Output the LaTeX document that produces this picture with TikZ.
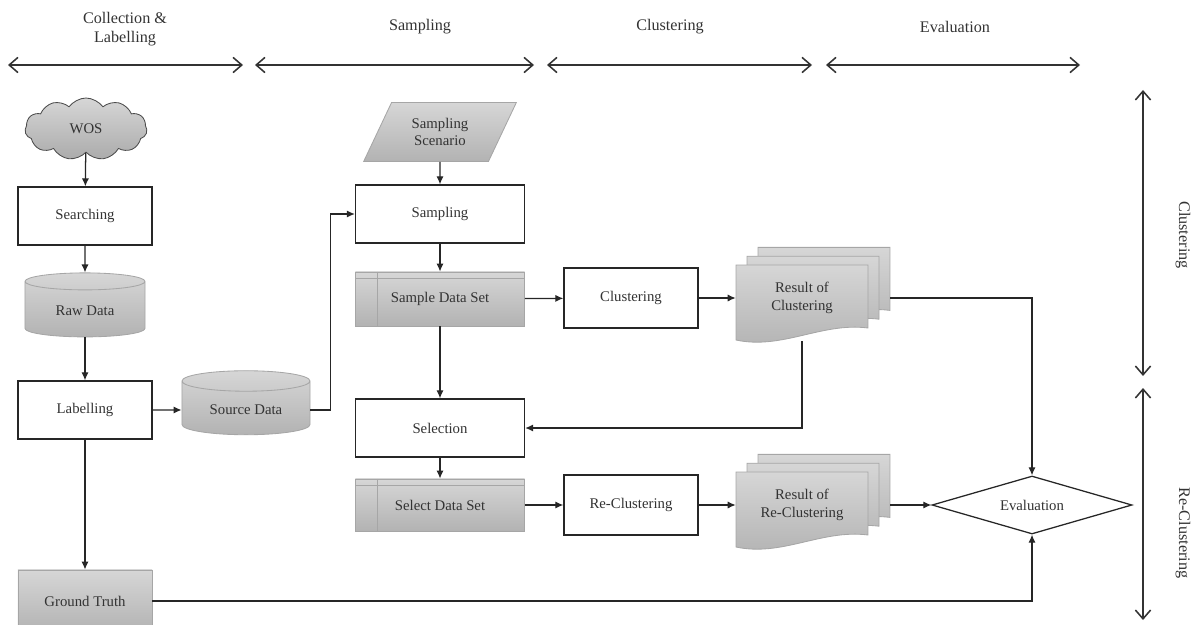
\documentclass[tikz,border=0pt]{standalone}
\usepackage{fontspec}
\setmainfont{Liberation Serif}
\usepackage{tikz}
\usetikzlibrary{shapes.geometric, shapes.symbols, arrows.meta, positioning, calc}

\begin{document}
\begin{tikzpicture}[x=0.025cm, y=-0.025cm,
  font=\fontsize{10.5}{12.5}\selectfont, text=black!80,
  box/.style={draw=black!85, line width=0.9pt, rectangle, fill=white, minimum width=3.35cm, minimum height=1.45cm},
  grey/.style={draw=black!35, line width=0.6pt, top color=black!16, bottom color=black!30},
  store/.style={grey, rectangle, minimum width=4.225cm, minimum height=1.3cm,
    path picture={
      \draw[black!35, line width=0.6pt] ([xshift=0.55cm]path picture bounding box.north west) -- ([xshift=0.55cm]path picture bounding box.south west);
      \draw[black!35, line width=0.6pt] ([yshift=-0.15cm]path picture bounding box.north west) -- ([yshift=-0.15cm]path picture bounding box.north east);}},
  db/.style={grey, cylinder, shape border rotate=90, aspect=0.25},
  sheet/.style={grey},
  flow/.style={draw=black!85, line width=0.9pt, -{Latex[length=2mm, width=1.8mm]}},
  span/.style={draw=black!80, line width=1.1pt, {Straight Barb[length=2.2mm, width=3.8mm]}-{Straight Barb[length=2.2mm, width=3.8mm]}},
  head/.style={font=\fontsize{11.5}{14}\selectfont, align=center}]
\useasboundingbox (0,0) rectangle (1195,624);

% Phase headers
\node[head] (hcol) at (125,29) {Collection \&\\Labelling};
\node[head] (hsam) at (420,27) {Sampling};
\node[head] (hclu) at (670,27) {Clustering};
\node[head] (heva) at (955,27) {Evaluation};
\foreach \a/\b in {8/243, 255/534, 547/812, 826/1080} {
  \draw[span] (\a,65) -- (\b,65);
}
\node[head, rotate=-90] (sclu) at (1183,235) {Clustering};
\node[head, rotate=-90] (srec) at (1183,533) {Re-Clustering};
\draw[span] (1143,90) -- (1143,376);
\draw[span] (1143,388) -- (1143,620);

% Collection & Labelling
\node[grey, draw=black!70, bottom color=black!33, cloud, cloud puffs=11, cloud puff arc=110, aspect=2, minimum width=3.05cm, minimum height=1.55cm] (wos) at (86,129) {WOS};
\node[box] (search) at (85,216) {Searching};
\node[db, minimum width=3cm, minimum height=1.6cm] (raw) at (85,311) {Raw Data};
\node[box] (label) at (85,410) {Labelling};
\node[db, minimum width=3.2cm, minimum height=1.6cm] (source) at (246,410) {Source Data};
\node[grey, rectangle, minimum width=3.35cm, minimum height=1.55cm] (truth) at (85,601) {Ground Truth};

% Sampling
\node[grey, trapezium, trapezium left angle=63, trapezium right angle=117, trapezium stretches=true, minimum width=3.825cm, minimum height=1.475cm, align=center] (scen) at (440,132) {Sampling\\Scenario};
\node[box, minimum width=4.225cm] (samp) at (440,214) {Sampling};
\node[store, minimum height=1.35cm] (sds) at (440,299) {Sample Data Set};
\node[box, minimum width=4.225cm] (sel) at (440,428) {Selection};
\node[store] (selds) at (440,505) {Select Data Set};

% Clustering
\node[box, minimum height=1.5cm] (clus) at (631,298) {Clustering};
\node[box, minimum height=1.5cm] (reclus) at (631,505) {Re-Clustering};
\foreach \d in {22,11,0} {
  \draw[sheet] (802+\d-66,298-0.8*\d-33) -- (802+\d+66,298-0.8*\d-33) -- (802+\d+66,298-0.8*\d+30)
    .. controls (802+\d+20,298-0.8*\d+24) and (802+\d-20,298-0.8*\d+52) .. (802+\d-66,298-0.8*\d+42) -- cycle;
  \draw[sheet] (802+\d-66,505-0.8*\d-33) -- (802+\d+66,505-0.8*\d-33) -- (802+\d+66,505-0.8*\d+30)
    .. controls (802+\d+20,505-0.8*\d+24) and (802+\d-20,505-0.8*\d+52) .. (802+\d-66,505-0.8*\d+42) -- cycle;
}
\node[minimum width=3.3cm, minimum height=1.65cm, align=center] (res1) at (802,298) {Result of\\Clustering};
\node[minimum width=3.3cm, minimum height=1.65cm, align=center] (res2) at (802,505) {Result of\\Re-Clustering};
\coordinate (res1b) at (802,341);

% Evaluation
\node[draw=black!85, line width=0.9pt, diamond, aspect=3.4, inner sep=1pt, minimum width=5cm, minimum height=1.45cm, fill=white] (eval) at (1032,505) {Evaluation};

% Connections
\draw[flow] (wos) -- (search);
\draw[flow] (search) -- (raw);
\draw[flow] (raw) -- (label);
\draw[flow] (label) -- (source);
\draw[flow] (label) -- (truth);
\draw[flow] (source.east) -- ++(20,0) |- (samp.west);
\draw[flow] (scen) -- (samp);
\draw[flow] (samp) -- (sds);
\draw[flow] (sds) -- (clus);
\draw[flow] (clus) -- (res1);
\draw[flow] (sds) -- (sel);
\draw[flow] (res1b) |- (sel.east);
\draw[flow] (sel) -- (selds);
\draw[flow] (selds) -- (reclus);
\draw[flow] (reclus) -- (res2);
\draw[flow] ([xshift=0.55cm]res1.east) -| (eval.north);
\draw[flow] ([xshift=0.55cm]res2.east) -- (eval.west);
\draw[flow] (truth.east) -| (eval.south);
\end{tikzpicture}
\end{document}
